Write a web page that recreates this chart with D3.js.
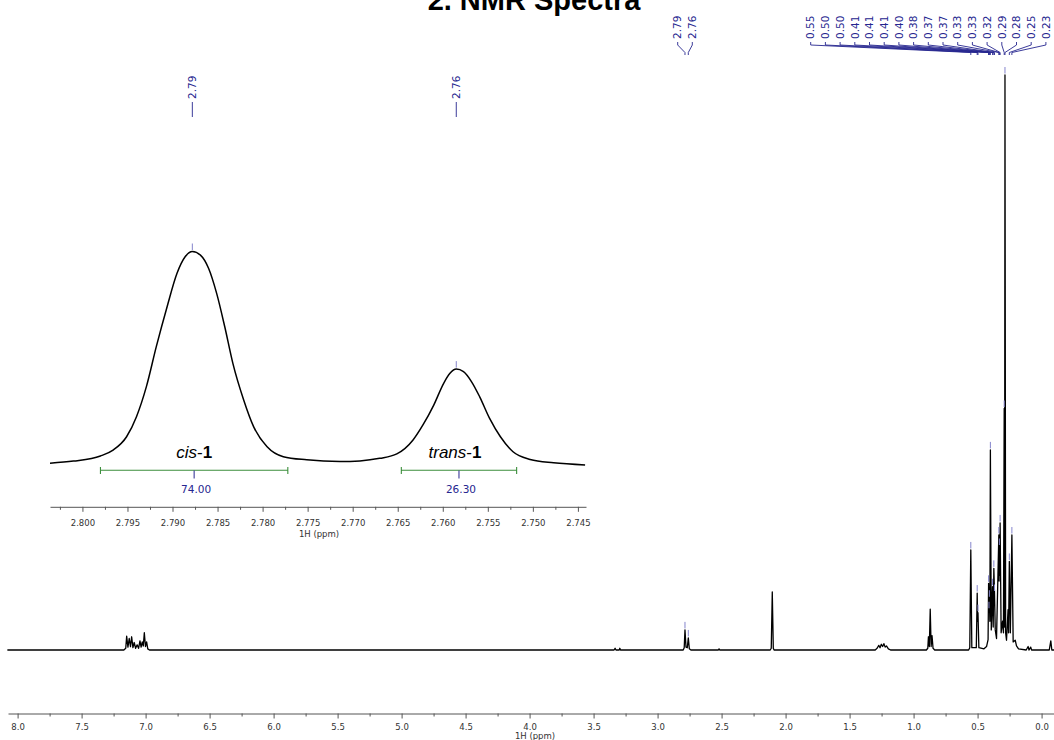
<!DOCTYPE html>
<html>
<head>
<meta charset="utf-8">
<script src="https://cdn.jsdelivr.net/npm/d3@7"></script>
<style>
    html, body { margin: 0; padding: 0; background: #fff; }
    #vis-rmn { width: 1054px; height: 740px; }
</style>
</head>
<body>
<div id="vis-rmn"></div>
<script>
const titulo = "2. NMR Spectra";

const ticksPrincipais = [8.0, 7.5, 7.0, 6.5, 6.0, 5.5, 5.0, 4.5, 4.0, 3.5, 3.0, 2.5, 2.0, 1.5, 1.0, 0.5, 0.0];
const ticksMenores = [7.75, 7.25, 6.75, 6.25, 5.75, 5.25, 4.75, 4.25, 3.75, 3.25, 2.75, 2.25, 1.75, 1.25, 0.75, 0.25];

// [ppm, intensidade relativa]
const espectro = [
    [8.08, 0], [7.17, 0], [7.155, 0.3], [7.148, 2.4], [7.138, 0.5], [7.128, 2.0], [7.118, 0.6],
    [7.109, 2.3], [7.099, 0.4], [7.089, 1.3], [7.078, 0.3], [7.066, 0.9], [7.055, 0.3], [7.044, 1.6],
    [7.035, 0.5], [7.026, 1.4], [7.018, 0.7], [7.010, 3.0], [7.001, 0.6], [6.992, 1.4], [6.983, 0.2],
    [6.97, 0], [3.34, 0], [3.332, 0.3], [3.325, 0], [3.30, 0], [3.295, 0.3], [3.29, 0],
    [2.80, 0], [2.792, 0.4], [2.786, 3.5], [2.778, 0.5], [2.768, 0.4], [2.760, 2.1], [2.752, 0.2],
    [2.74, 0], [2.525, 0], [2.52, 0.2], [2.515, 0], [2.12, 0], [2.112, 0.3], [2.104, 10.1],
    [2.096, 0.3], [2.09, 0], [1.30, 0], [1.285, 0.3], [1.272, 0.8], [1.262, 0.4], [1.252, 1.0],
    [1.242, 0.6], [1.232, 1.1], [1.222, 0.5], [1.212, 0.7], [1.197, 0.2], [1.18, 0],
    [0.90, 0], [0.889, 0.3], [0.884, 2.3], [0.877, 0.6], [0.870, 7.1], [0.863, 0.6], [0.856, 2.5],
    [0.848, 0.3], [0.835, 0], [0.57, 0], [0.561, 0.4], [0.553, 17.4], [0.545, 0.4], [0.51, 0.4],
    [0.503, 9.9], [0.500, 5], [0.497, 6.5], [0.49, 0.4], [0.45, 0.2], [0.43, 0.6], [0.418, 1.8],
    [0.414, 11.6], [0.411, 7], [0.408, 9], [0.404, 5], [0.400, 34.8], [0.393, 3.5], [0.383, 11],
    [0.378, 4], [0.373, 14.2], [0.368, 10], [0.362, 3.5], [0.352, 2], [0.334, 20], [0.332, 12],
    [0.330, 18], [0.327, 13], [0.324, 22.1], [0.316, 3], [0.305, 5], [0.298, 3], [0.292, 42],
    [0.289, 4], [0.286, 100], [0.281, 3], [0.274, 1.7], [0.262, 7], [0.258, 3], [0.252, 15.4],
    [0.244, 3], [0.232, 20], [0.222, 1.4], [0.206, 1.7], [0.196, 0.7], [0.18, 0.2], [0.12, 0],
    [0.105, 0.6], [0.098, 0], [0.085, 0.5], [0.078, 0], [-0.06, 0], [-0.072, 1.6], [-0.08, 0],
    [-0.097, 0]
];

// Picos marcados no espectro principal
const picosA = [[2.786, 3.5], [2.760, 2.1]];
const rotulosA = ["2.79", "2.76"];
const picosB = [
    [0.553, 17.4], [0.503, 9.9], [0.497, 6.5], [0.414, 11.6], [0.411, 7], [0.408, 9],
    [0.400, 34.8], [0.383, 11], [0.373, 14.2], [0.368, 10], [0.334, 20], [0.330, 18],
    [0.324, 22.1], [0.292, 42], [0.286, 100], [0.252, 15.4], [0.232, 20]
];
const rotulosB = ["0.55", "0.50", "0.50", "0.41", "0.41", "0.41", "0.40", "0.38", "0.37",
    "0.37", "0.33", "0.33", "0.32", "0.29", "0.28", "0.25", "0.23"];

// Ampliação 2.80 - 2.745
const ticksInset = [2.800, 2.795, 2.790, 2.785, 2.780, 2.775, 2.770, 2.765, 2.760, 2.755, 2.750, 2.745];
const ticksInsetMenores = [2.8025, 2.7975, 2.7925, 2.7875, 2.7825, 2.7775, 2.7725, 2.7675, 2.7625,
    2.7575, 2.7525, 2.7475];

const sinalInset = [
    [2.8036, -0.1], [2.8010, 0.9], [2.7980, 3.3], [2.7966, 6.1], [2.7951, 12.4], [2.7940, 21.9],
    [2.7929, 36.1], [2.7918, 55.0], [2.7906, 73.9], [2.7895, 89.7], [2.7886, 97.5], [2.7878, 100],
    [2.7869, 98.3], [2.7860, 92.1], [2.7851, 80.2], [2.7842, 64.4], [2.7833, 47.1], [2.7821, 29.8],
    [2.7810, 17.2], [2.7795, 7.7], [2.7777, 3.0], [2.7751, 1.5], [2.7714, 0.7], [2.7692, 1.0],
    [2.7670, 2.2], [2.7651, 4.3], [2.7633, 10.9], [2.7622, 18.0], [2.7610, 27.4], [2.7599, 37.7],
    [2.7592, 42.4], [2.7585, 44.4], [2.7577, 43.2], [2.7568, 38.4], [2.7559, 31.3], [2.7548, 21.1],
    [2.7536, 12.4], [2.7522, 5.3], [2.7503, 1.7], [2.7477, 0.1], [2.7442, -0.9]
];
const picosInset = [[2.7878, 100], [2.7585, 44.4]];
const rotulosInset = ["2.79", "2.76"];

const integrais = [[2.7980, 2.7772], [2.7646, 2.7518]];
const valoresIntegrais = ["74.00", "26.30"];
const compostos = ["cis", "trans"];

const corAzul = "#26268f";
const corPico = "#8585cc";
const corVerde = "#3d8f3d";
const fonteEixo = "DejaVu Sans, Verdana, sans-serif";

const svg = d3.select("#vis-rmn").append("svg")
    .attr("width", 1054)
    .attr("height", 740);

//Titulo
svg.append("text")
    .attr("x", 534)
    .attr("y", 9.5)
    .attr("text-anchor", "middle")
    .attr("font-family", "Liberation Sans, Arial, sans-serif")
    .attr("font-weight", "bold")
    .attr("font-size", 29)
    .text(titulo);

//Escalas principais
const x = d3.scaleLinear().domain([8.075, -0.097]).range([8, 1054]);
const y = d3.scaleLinear().domain([0, 100]).range([650, 75]);

//Eixo principal
function estilizaEixo(g) {
    g.attr("font-family", fonteEixo).attr("font-size", 8.5);
    g.selectAll("path, line").attr("stroke", "#555");
    g.selectAll("text").attr("fill", "#333");
}

svg.append("g")
    .attr("transform", "translate(0, 713.5)")
    .call(d3.axisBottom(x).tickValues(ticksPrincipais).tickSize(5).tickSizeOuter(0)
        .tickPadding(5).tickFormat(d3.format(".1f")))
    .call(estilizaEixo);

svg.append("g")
    .attr("transform", "translate(0, 713.5)")
    .call(d3.axisBottom(x).tickValues(ticksMenores).tickSize(3).tickFormat(() => ""))
    .call(g => g.select(".domain").remove())
    .call(estilizaEixo);

svg.append("text")
    .attr("x", 535)
    .attr("y", 739)
    .attr("text-anchor", "middle")
    .attr("font-family", fonteEixo)
    .attr("font-size", 8.5)
    .attr("fill", "#333")
    .text("1H (ppm)");

//Espectro
const linha = d3.line().x(d => x(d[0])).y(d => y(d[1]));

svg.append("path")
    .datum(espectro)
    .attr("d", linha)
    .attr("fill", "none")
    .attr("stroke", "#000")
    .attr("stroke-width", 1.3)
    .attr("stroke-linejoin", "round");

//Marcas dos picos
function marcaPicos(picos, ex, ey) {
    svg.append("g").selectAll("line")
        .data(picos)
        .join("line")
        .attr("x1", d => ex(d[0]))
        .attr("x2", d => ex(d[0]))
        .attr("y1", d => ey(d[1]) - 8)
        .attr("y2", d => ey(d[1]) - 1.5)
        .attr("stroke", corPico)
        .attr("stroke-width", 1);
}
marcaPicos(picosA, x, y);
marcaPicos(picosB, x, y);

//Rotulos dos picos com linhas guia
function rotulaPicos(picos, rotulos, x0, passo) {
    const g = svg.append("g");
    picos.forEach((p, i) => {
        const lx = x0 + i * passo;
        const px = x(p[0]);
        g.append("path")
            .attr("d", `M${lx},42V45L${px},52.5V55`)
            .attr("fill", "none")
            .attr("stroke", corAzul)
            .attr("stroke-width", 0.9);
        g.append("text")
            .attr("transform", `translate(${lx}, 39) rotate(-90)`)
            .attr("dy", "0.36em")
            .attr("font-family", fonteEixo)
            .attr("font-size", 10.5)
            .attr("fill", corAzul)
            .text(rotulos[i]);
    });
}
rotulaPicos(picosA, rotulosA, 677.7, 14.6);
rotulaPicos(picosB, rotulosB, 810.7, 14.7);

//Ampliação
const xi = d3.scaleLinear().domain([2.8036, 2.7441]).range([50, 586]);
const yi = d3.scaleLinear().domain([0, 100]).range([463, 251.5]);

svg.append("g")
    .attr("transform", "translate(0, 506.8)")
    .call(d3.axisBottom(xi).tickValues(ticksInset).tickSize(5).tickSizeOuter(0)
        .tickPadding(8).tickFormat(d3.format(".3f")))
    .call(estilizaEixo);

svg.append("g")
    .attr("transform", "translate(0, 506.8)")
    .call(d3.axisBottom(xi).tickValues(ticksInsetMenores).tickSize(3).tickFormat(() => ""))
    .call(g => g.select(".domain").remove())
    .call(estilizaEixo);

svg.append("text")
    .attr("x", 319)
    .attr("y", 537)
    .attr("text-anchor", "middle")
    .attr("font-family", fonteEixo)
    .attr("font-size", 8.5)
    .attr("fill", "#333")
    .text("1H (ppm)");

svg.append("path")
    .datum(sinalInset)
    .attr("d", d3.line().x(d => xi(d[0])).y(d => yi(d[1])).curve(d3.curveMonotoneX))
    .attr("fill", "none")
    .attr("stroke", "#000")
    .attr("stroke-width", 1.5);

marcaPicos(picosInset, xi, yi);

picosInset.forEach((p, i) => {
    const px = xi(p[0]);
    svg.append("line")
        .attr("x1", px).attr("x2", px)
        .attr("y1", 102).attr("y2", 117)
        .attr("stroke", corAzul)
        .attr("stroke-width", 0.9);
    svg.append("text")
        .attr("transform", `translate(${px}, 99) rotate(-90)`)
        .attr("dy", "0.36em")
        .attr("font-family", fonteEixo)
        .attr("font-size", 10.5)
        .attr("fill", corAzul)
        .text(rotulosInset[i]);
});

//Integrais
integrais.forEach((r, i) => {
    const x1 = xi(r[0]);
    const x2 = xi(r[1]);
    const meio = (x1 + x2) / 2;
    const g = svg.append("g");
    g.append("path")
        .attr("d", `M${x1},467V474M${x1},470.3H${x2}M${x2},467V474`)
        .attr("fill", "none")
        .attr("stroke", corVerde)
        .attr("stroke-width", 1.1);
    g.append("line")
        .attr("x1", meio).attr("x2", meio)
        .attr("y1", 470.5).attr("y2", 478.5)
        .attr("stroke", corAzul)
        .attr("stroke-width", 1);
    g.append("text")
        .attr("x", meio + 2)
        .attr("y", 493)
        .attr("text-anchor", "middle")
        .attr("font-family", fonteEixo)
        .attr("font-size", 10.5)
        .attr("fill", corAzul)
        .text(valoresIntegrais[i]);

    const rotulo = g.append("text")
        .attr("x", meio - (i === 1 ? 4 : 0))
        .attr("y", 457.5)
        .attr("text-anchor", "middle")
        .attr("font-family", "Liberation Sans, Arial, sans-serif")
        .attr("font-size", 17);
    rotulo.append("tspan").attr("font-style", "italic").text(compostos[i]);
    rotulo.append("tspan").text("-");
    rotulo.append("tspan").attr("font-weight", "bold").text("1");
});
</script>
</body>
</html>
